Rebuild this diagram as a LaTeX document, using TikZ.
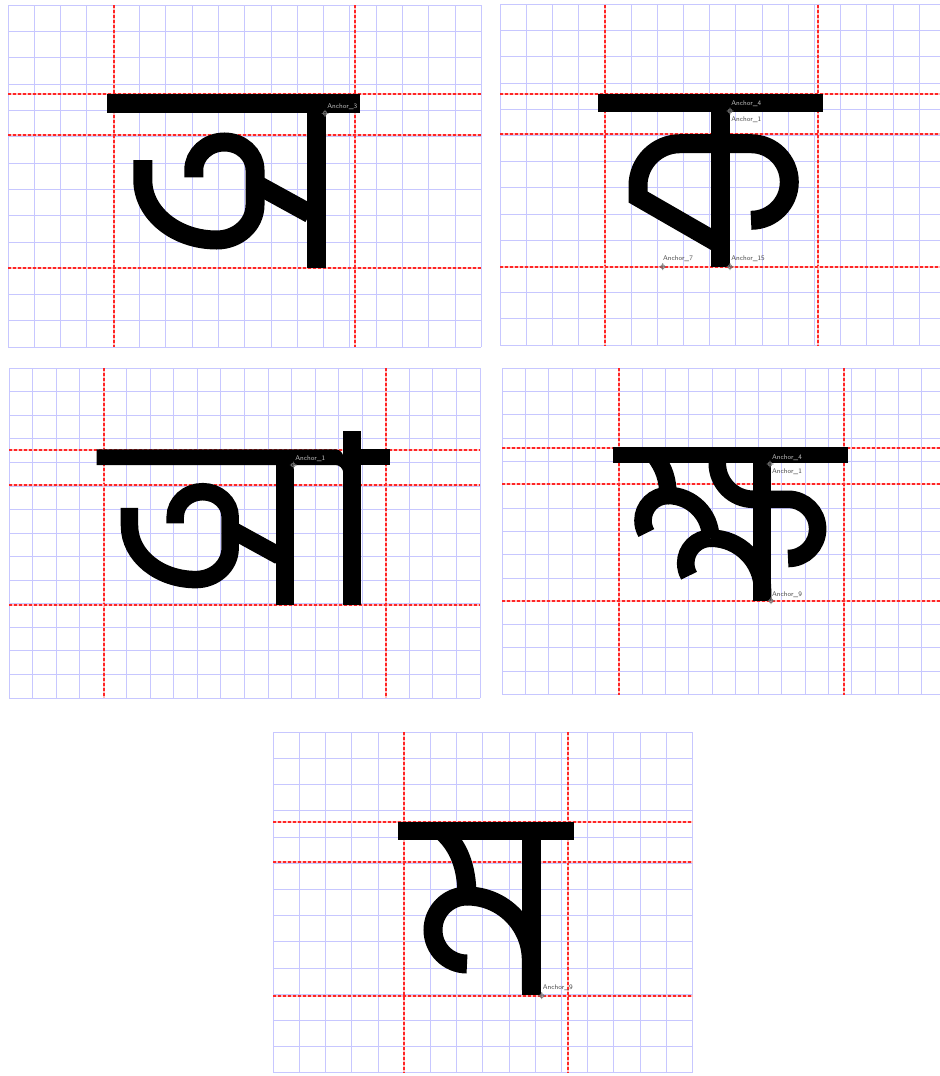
\documentclass[tikz,border=0pt]{standalone}
\usepackage{tikz}

% one glyph cell of the editor: origin x, origin y, cell size, columns, rows
\newcommand\glyphgrid[5]{%
  \foreach \i in {0,...,#4} \draw[gridline] ({#1+\i*#3},#2) -- ({#1+\i*#3},{#2+#5*#3});
  \foreach \j in {0,...,#5} \draw[gridline] (#1,{#2+\j*#3}) -- ({#1+#4*#3},{#2+\j*#3});
}
\newcommand\anchormark[1]{\draw[anchordot] (#1) circle[radius=2] ++(-3.5,0) -- ++(7,0) ++(-3.5,-3.5) -- ++(0,7);}

\begin{document}
\begin{tikzpicture}[x=0.5pt,y=-0.5pt,
    gridline/.style={blue!22,line width=0.5pt},
    guide/.style={preaction={draw=red!25,solid,line width=1pt},
      draw=red!85,dash pattern=on 1.5pt off 1pt,line width=1pt},
    ink/.style={line width=9.5pt},
    thinink/.style={line width=8.8pt},
    anchordot/.style={black!55,line width=0.3pt},
    anchorlabel/.style={font=\sffamily\fontsize{3.4}{4}\selectfont,inner sep=0pt,anchor=west,text=black!70},
    onbar/.style={text=black!25}]
  \useasboundingbox (0,0) rectangle (940,1076);
  \fill[white] (0,0) rectangle (940,1076);
  \clip (0,0) rectangle (940,1076);

  % grids
  \glyphgrid{8}{5.3}{26.3}{18}{13}
  \glyphgrid{500}{4.5}{26.2}{17}{13}
  \glyphgrid{9}{368.3}{23.55}{20}{14}
  \glyphgrid{502.3}{368.3}{23.3}{19}{14}
  \glyphgrid{273.3}{732.3}{26.2}{16}{13}

  % red guides
  \foreach \gx in {114,355} \draw[guide] (\gx,5.3) -- (\gx,347.2);
  \foreach \gy in {94,135,268} \draw[guide] (8,\gy) -- (481.4,\gy);
  \foreach \gx in {605,818} \draw[guide] (\gx,4.5) -- (\gx,345);
  \foreach \gy in {94,134,267} \draw[guide] (500,\gy) -- (940,\gy);
  \foreach \gx in {104,386} \draw[guide] (\gx,368.3) -- (\gx,698);
  \foreach \gy in {450,485,605} \draw[guide] (9,\gy) -- (480,\gy);
  \foreach \gx in {619,844} \draw[guide] (\gx,368.3) -- (\gx,694.5);
  \foreach \gy in {448,484,601} \draw[guide] (502.3,\gy) -- (940,\gy);
  \foreach \gx in {404,568} \draw[guide] (\gx,732.3) -- (\gx,1072.9);
  \foreach \gy in {822,862,996} \draw[guide] (273.3,\gy) -- (692.5,\gy);

  % a
  \fill (107,94.3) rectangle (360,112.7);
  \fill (306.7,112.7) rectangle (326,267.7);
  \draw[ink] (193.8,177.3) -- (193.8,170) arc[start angle=180,end angle=360,x radius=30.6,y radius=28]
    -- (255,205) arc[start angle=0,end angle=90,x radius=38.3,y radius=35]
    arc[start angle=90,end angle=180,x radius=73.9,y radius=60] -- (142.8,160);
  \draw[ink] (255,183.5) -- (310,213.7);

  % aa
  \fill (96.7,449.3) -- (335.3,449.3) arc[start angle=270,end angle=360,radius=8]
    -- (343.3,473) arc[start angle=0,end angle=-90,radius=8] -- (96.7,465) -- cycle;
  \fill (276,465) rectangle (294,605);
  \fill (343.3,430.7) rectangle (361,605);
  \fill (361,449.3) rectangle (390,465);
  \begin{scope}[shift={(1.4,364.3)},scale=0.897]
    \draw[line width=8.75pt] (193.8,177.3) -- (193.8,170) arc[start angle=180,end angle=360,x radius=30.6,y radius=28]
      -- (255,205) arc[start angle=0,end angle=90,x radius=38.3,y radius=35]
      arc[start angle=90,end angle=180,x radius=73.9,y radius=60] -- (142.8,160);
    \draw[line width=8.75pt] (255,183.5) -- (310,213.7);
  \end{scope}

  % ka
  \fill (598.3,94) rectangle (823.3,111.7);
  \fill (711,111.7) rectangle (730,266.7);
  \draw[ink] (720,244.2) -- (638,197) -- (638,185.7) arc[start angle=180,end angle=270,radius=42]
    -- (751,143.7) arc[start angle=270,end angle=450,radius=38.3];

  % kssa
  \fill (613.3,447.3) rectangle (848.3,463.3);
  \fill (753.3,463.3) rectangle (771,600.7);
  \draw[thinink] (717.3,458) -- (717.3,463.3) arc[start angle=180,end angle=90,radius=36]
    -- (788,499.3) arc[start angle=270,end angle=450,radius=29.6];
  \draw[thinink] (655,456) .. controls (664,468) and (668,480) .. (668,495.5);
  \draw[thinink] (668,495.5) arc[start angle=270,end angle=150,radius=25];
  \draw[thinink] (668,495.5) arc[start angle=270,end angle=360,radius=42.7];
  \draw[thinink] (710.7,538.2) arc[start angle=270,end angle=150,radius=25];
  \draw[thinink] (710.7,538.2) arc[start angle=270,end angle=360,radius=51.8] -- (762.5,600);

  % ma
  \fill (397.5,822) rectangle (574,840.3);
  \fill (521.7,840.3) rectangle (541,995.3);
  \draw[ink] (443,832) .. controls (458,846) and (467,866) .. (467,896);
  \draw[ink] (467,896) arc[start angle=270,end angle=90,radius=34];
  \draw[ink] (467,896) arc[start angle=270,end angle=360,radius=64.3] -- (531.3,990);

  % anchors
  \coordinate (aA3) at (325,113.3);
  \coordinate (kaA4) at (730,111);
  \coordinate (kaA7) at (662.7,266.7);
  \coordinate (kaA15) at (730,266.7);
  \coordinate (aaA1) at (293.3,465);
  \coordinate (ksA4) at (770,464);
  \coordinate (ksA9) at (771,600.7);
  \coordinate (maA9) at (541.7,995.7);
  \foreach \p in {aA3,kaA4,kaA7,kaA15,aaA1,ksA4,ksA9,maA9} {\anchormark{\p}}

  \node[anchorlabel,onbar] (lblaA3) at (327,107) {Anchor\_3};
  \node[anchorlabel,onbar] (lblkaA4) at (731,104) {Anchor\_4};
  \node[anchorlabel] (lblkaA1) at (731,120) {Anchor\_1};
  \node[anchorlabel] (lblkaA7) at (662.7,259) {Anchor\_7};
  \node[anchorlabel] (lblkaA15) at (731,259) {Anchor\_15};
  \node[anchorlabel,onbar] (lblaaA1) at (295,459) {Anchor\_1};
  \node[anchorlabel,onbar] (lblksA4) at (771.7,457.3) {Anchor\_4};
  \node[anchorlabel] (lblksA1) at (771.7,471.7) {Anchor\_1};
  \node[anchorlabel] (lblksA9) at (771.7,594.3) {Anchor\_9};
  \node[anchorlabel] (lblmaA9) at (542.5,987.7) {Anchor\_9};
\end{tikzpicture}
\end{document}
